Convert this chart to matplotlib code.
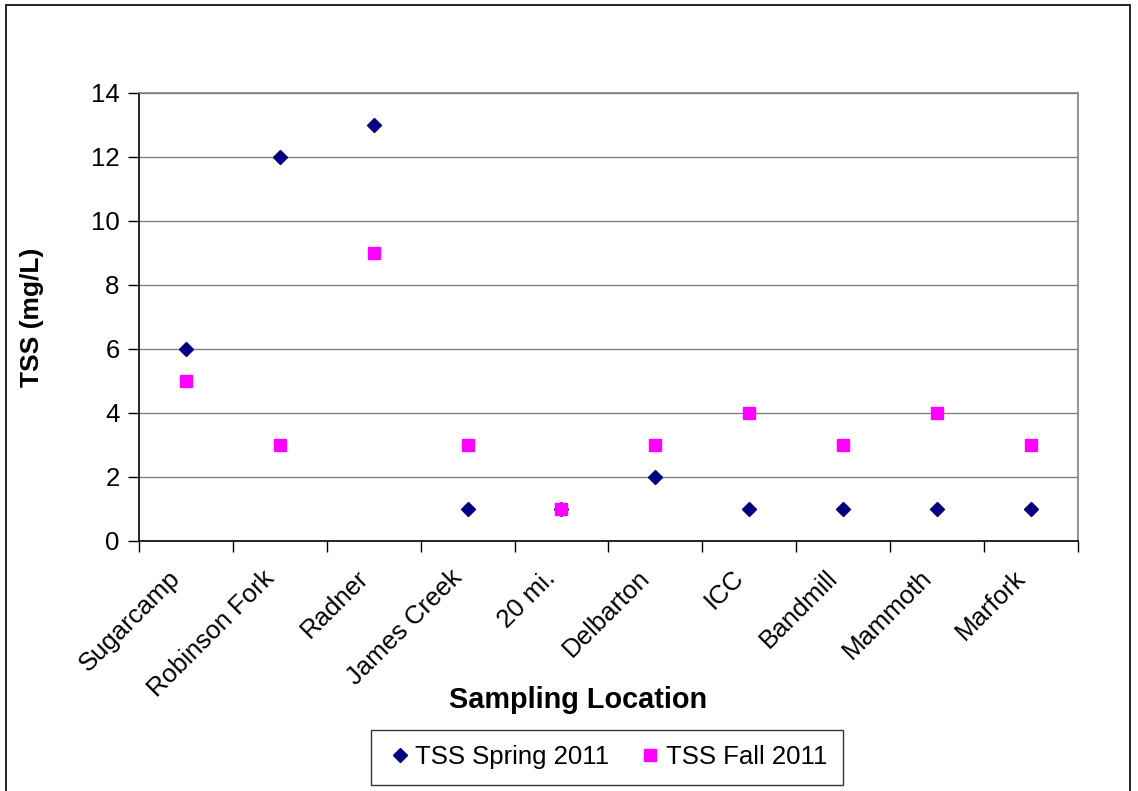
import matplotlib
matplotlib.use('Agg')
import matplotlib.pyplot as plt
from matplotlib.patches import Rectangle
from matplotlib.transforms import ScaledTranslation

plt.rcParams['font.family'] = ['Liberation Sans', 'DejaVu Sans']

locations = ['Sugarcamp', 'Robinson Fork', 'Radner', 'James Creek', '20 mi.',
             'Delbarton', 'ICC', 'Bandmill', 'Mammoth', 'Marfork']
tss_spring_2011 = [6, 12, 13, 1, 1, 2, 1, 1, 1, 1]
tss_fall_2011 = [5, 3, 9, 3, 1, 3, 4, 3, 4, 3]
y_ticks = [0, 2, 4, 6, 8, 10, 12, 14]

fig = plt.figure(figsize=(11.38, 7.91), dpi=100)
ax = fig.add_axes([0.1221, 0.3161, 0.8251, 0.5664])

x = list(range(len(locations)))
ax.plot(x, tss_spring_2011, linestyle='none', marker='D', markersize=7,
        color='#000080', label='TSS Spring 2011', zorder=3)
ax.plot(x, tss_fall_2011, linestyle='none', marker='s', markersize=8.5,
        color='#FF00FF', label='TSS Fall 2011', zorder=4)

ax.set_xlim(-0.5, len(locations) - 0.5)
ax.set_ylim(0, 14)
ax.set_yticks(y_ticks)
ax.set_xticks(x)
ax.set_xticks([i - 0.5 for i in range(len(locations) + 1)], minor=True)
ax.tick_params(axis='x', which='major', length=0, pad=12)
ax.tick_params(axis='x', which='minor', length=8, width=1, color='black',
               direction='out')
ax.tick_params(axis='y', length=8, width=1, direction='out', labelsize=18.5,
               pad=6)
ax.set_xticklabels(locations, rotation=45, ha='right', va='top',
                   rotation_mode='anchor', fontsize=18.5)
# nudge the slanted names so they end just under each category
shift = ScaledTranslation(-18 / 100, -8 / 100, fig.dpi_scale_trans)
for lbl in ax.get_xticklabels():
    lbl.set_transform(lbl.get_transform() + shift)

ax.yaxis.grid(True, color='#808080', linewidth=1)
ax.set_axisbelow(True)
for side in ['top', 'right']:
    ax.spines[side].set_color('#808080')
    ax.spines[side].set_linewidth(1.2)
for side in ['left', 'bottom']:
    ax.spines[side].set_color('black')
    ax.spines[side].set_linewidth(1.2)

ax.set_ylabel('TSS (mg/L)', fontsize=19, fontweight='bold')
ax.yaxis.set_label_coords(-0.101, 0.5)
fig.text(578 / 1138, 1 - 700 / 791, 'Sampling Location', fontsize=20.8,
         fontweight='bold', ha='center', va='center')

leg = fig.legend(loc='upper center', bbox_to_anchor=(607 / 1138, 1 - 730 / 791),
                 ncol=2, fontsize=18.5, frameon=True, fancybox=False,
                 handletextpad=0.1, columnspacing=1.1, handlelength=1.0,
                 borderpad=0.6, borderaxespad=0)
leg.get_frame().set_edgecolor('black')
leg.get_frame().set_linewidth(1)

# chart area frame
fig.patches.append(Rectangle((6 / 1138, -0.05), 1130 / 1138 - 6 / 1138,
                             1 - 5 / 791 + 0.05, transform=fig.transFigure,
                             fill=False, edgecolor='black', linewidth=1.2,
                             clip_on=False))

fig.savefig('out.png', dpi=100)
